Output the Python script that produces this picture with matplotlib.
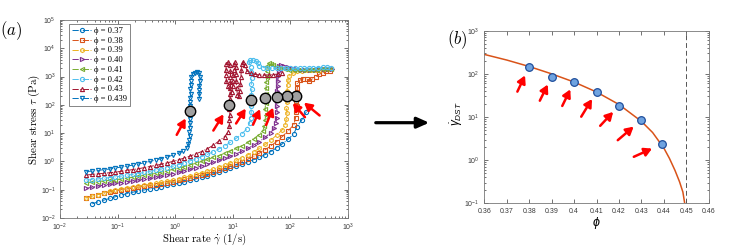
import matplotlib.pyplot as plt
from matplotlib.patches import FancyArrowPatch
from matplotlib.ticker import LogLocator, NullFormatter, FixedLocator, FixedFormatter

plt.rcParams['font.family'] = 'Liberation Sans'
plt.rcParams['mathtext.fontset'] = 'custom'
plt.rcParams['mathtext.rm'] = 'Liberation Sans'
plt.rcParams['mathtext.it'] = 'Liberation Sans:italic'

# ---------------- panel (a) data ----------------
# shear rates of the low-rate branch (1/s)
rate_grid = [0.0288, 0.0363, 0.0457, 0.0575, 0.0724, 0.0912, 0.115, 0.145, 0.182, 0.229,
             0.288, 0.363, 0.457, 0.575, 0.724, 0.912, 1.15, 1.45, 1.82, 2.29,
             2.88, 3.63, 4.57, 5.75, 7.24, 9.12, 11.5, 14.5, 18.2, 22.9,
             28.8, 36.3, 45.7, 57.5, 72.4, 91.2, 115]

rate_37 = rate_grid[1:37] + [130, 158, 190]
stress_37 = [0.0316, 0.0372, 0.0427, 0.049, 0.0562, 0.0646, 0.0724, 0.0813, 0.0891, 0.0977,
             0.107, 0.117, 0.129, 0.141, 0.155, 0.170, 0.191, 0.214, 0.240, 0.275,
             0.316, 0.363, 0.417, 0.490, 0.575, 0.676, 0.794, 0.955, 1.15, 1.38,
             1.74, 2.24, 3.02, 4.17, 6.03, 9.55, 17.0, 29.5, 57.5]

rate_38 = rate_grid[:37] + [123, 126, 129, 126, 129, 129, 132, 132, 148, 166, 191, 214,
                            240, 275, 316, 363, 417, 479]
stress_38 = [0.0525, 0.0603, 0.0676, 0.0759, 0.0832, 0.0912, 0.100, 0.107, 0.115, 0.123,
             0.132, 0.141, 0.151, 0.162, 0.178, 0.195, 0.214, 0.234, 0.263, 0.295,
             0.331, 0.372, 0.427, 0.490, 0.575, 0.676, 0.813, 0.977, 1.20, 1.51,
             1.95, 2.57, 3.55, 5.01, 7.59, 12.0, 20.0,
             35.5, 56.2, 89.1, 141, 200, 282, 398, 575, 759, 832, 794, 692,
             832, 1000, 1202, 1380, 1514, 1622]

rate_39 = rate_grid[:35] + [81.3, 85.1, 87.1, 85.1, 87.1, 89.1, 87.1, 89.1, 91.2, 95.5,
                            110, 132, 158, 191, 229, 275, 331, 398, 468]
stress_39 = [0.0501, 0.0589, 0.0676, 0.0776, 0.0871, 0.0977, 0.107, 0.117, 0.126, 0.135,
             0.145, 0.155, 0.166, 0.182, 0.200, 0.224, 0.245, 0.275, 0.309, 0.347,
             0.398, 0.457, 0.537, 0.631, 0.741, 0.891, 1.10, 1.35, 1.70, 2.19,
             2.88, 3.98, 5.62, 8.51, 13.2,
             20.0, 31.6, 50.1, 79.4, 126, 200, 316, 501, 759, 1047,
             1318, 1514, 1622, 1660, 1698, 1738, 1778, 1820, 1862]

rate_40 = rate_grid[:33] + [52.5, 56.2, 57.5, 58.9, 57.5, 58.9, 60.3, 58.9, 60.3, 60.3,
                            61.7, 63.1, 64.6, 69.2, 77.6, 89.1, 105, 126, 151, 182,
                            219, 263, 316, 380, 457, 525]
stress_40 = [0.112, 0.123, 0.135, 0.145, 0.155, 0.166, 0.178, 0.191, 0.204, 0.219,
             0.234, 0.251, 0.275, 0.302, 0.331, 0.372, 0.417, 0.468, 0.525, 0.603,
             0.692, 0.794, 0.933, 1.10, 1.29, 1.55, 1.86, 2.29, 2.88, 3.72,
             5.01, 7.08, 10.5,
             15.1, 22.4, 35.5, 56.2, 89.1, 132, 200, 302, 457, 692,
             1047, 1585, 2291, 2630, 2455, 2188, 1995, 1862, 1778, 1738,
             1738, 1778, 1820, 1862, 1905, 1905]

rate_41 = rate_grid[:31] + [33.1, 35.5, 36.3, 37.2, 36.3, 37.2, 36.3, 37.2, 38.0, 38.0,
                            38.9, 38.9, 39.8, 42.7, 46.8, 50.1, 56.2, 66.1, 79.4, 95.5,
                            115, 138, 166, 200, 240, 288, 347, 417, 501]
stress_41 = [0.178, 0.186, 0.195, 0.204, 0.214, 0.224, 0.240, 0.257, 0.275, 0.295,
             0.324, 0.347, 0.380, 0.417, 0.468, 0.525, 0.589, 0.661, 0.759, 0.871,
             1.00, 1.17, 1.38, 1.62, 1.95, 2.34, 2.88, 3.63, 4.68, 6.31, 8.91,
             12.0, 17.8, 28.2, 44.7, 70.8, 112, 170, 251, 398, 631,
             1000, 1585, 2399, 3020, 2884, 2512, 2138, 1950, 1820, 1738,
             1698, 1660, 1660, 1698, 1738, 1778, 1820, 1862, 1905]

rate_42 = rate_grid[:28] + [17.4, 19.5, 20.4, 20.9, 20.4, 21.4, 20.9, 21.4, 20.9, 21.4,
                            20.9, 20.4, 19.1, 20.0, 22.4, 25.1, 26.9, 28.8, 33.1, 39.8,
                            47.9, 57.5, 69.2, 83.2, 100, 120, 145, 174, 209, 251,
                            302, 363, 437, 513]
stress_42 = [0.219, 0.229, 0.240, 0.251, 0.269, 0.282, 0.302, 0.324, 0.347, 0.372,
             0.407, 0.447, 0.490, 0.537, 0.603, 0.676, 0.776, 0.891, 1.05, 1.23,
             1.48, 1.78, 2.19, 2.75, 3.55, 4.79, 6.61, 9.55,
             14.1, 22.4, 35.5, 56.2, 89.1, 148, 224, 355, 562, 891,
             1413, 2239, 3162, 3715, 3890, 3631, 2951, 2399, 2089, 1995,
             1950, 1950, 1950, 1950, 1950, 1950, 1950, 1950, 1995, 2042,
             2089, 2138, 2138, 2089]

rate_43 = rate_grid[:25] + [8.32, 8.71, 8.71, 8.91, 8.71, 8.71, 8.91, 8.91, 9.12, 9.12,
                            9.12, 9.12, 8.91, 8.32, 7.76, 7.59, 7.59, 7.76, 8.13, 9.55,
                            10.0, 10.2, 10.2, 10.5, 10.5, 11.0, 11.2, 11.5, 11.5, 11.7,
                            12.0, 12.6, 13.2, 13.5, 13.8, 14.1, 14.5, 15.1, 16.2, 17.8,
                            20.4, 24.0, 28.8, 34.7, 41.7, 50.1, 60.3, 72.4]
stress_43 = [0.331, 0.347, 0.363, 0.380, 0.398, 0.417, 0.447, 0.479, 0.513, 0.550,
             0.603, 0.661, 0.724, 0.794, 0.891, 1.00, 1.15, 1.32, 1.55, 1.86,
             2.24, 2.82, 3.72, 5.25, 7.59,
             11.2, 17.8, 28.2, 44.7, 70.8, 100, 158, 251, 398, 631,
             1000, 1585, 2512, 3162, 2754, 1778, 1122, 708, 447, 282,
             447, 708, 1122, 1778, 2818, 3311, 2239, 1259, 708, 398,
             224, 200, 316, 562, 1000, 1778, 2818, 3388, 2512, 1585,
             1318, 1202, 1148, 1122, 1148, 1175, 1230, 1288]

rate_439 = rate_grid[:17] + [1.38, 1.58, 1.70, 1.74, 1.78, 1.74, 1.78, 1.82, 1.78, 1.82,
                             1.82, 1.78, 1.82, 1.82, 1.86, 1.82, 1.86, 1.86, 1.91, 2.00,
                             2.19, 2.40, 2.63, 2.69, 2.69, 2.63, 2.63, 2.63, 2.63]
stress_439 = [0.437, 0.457, 0.479, 0.513, 0.537, 0.589, 0.631, 0.676, 0.741, 0.813,
              0.891, 1.00, 1.12, 1.26, 1.45, 1.66, 1.95,
              2.40, 3.02, 3.98, 5.62, 7.94, 11.2, 15.8, 22.4, 31.6, 44.7,
              63.1, 89.1, 126, 178, 251, 355, 501, 708, 1000, 1259,
              1380, 1413, 1349, 955, 676, 479, 339, 240, 166]

# onset of discontinuous shear thickening, phi = 0.38 ... 0.439
dst_rate_a = [125, 87, 59, 36, 21, 8.7, 1.8]
dst_stress_a = [205, 200, 185, 170, 150, 100, 63]

# ---------------- panel (b) data ----------------
phi_pts = [0.38, 0.39, 0.40, 0.41, 0.42, 0.43, 0.439]
rate_dst = [147, 86, 66, 38.6, 18.3, 8.5, 2.33]
phi_fit = [0.36, 0.37, 0.38, 0.39, 0.40, 0.41, 0.42, 0.43, 0.435, 0.44,
           0.4425, 0.445, 0.447, 0.4485, 0.4493]
rate_fit = [282, 209, 148, 100, 64.6, 38.0, 19.5, 7.94, 4.37, 1.91,
            1.10, 0.575, 0.316, 0.182, 0.1]
phi_c = 0.45

series = [
    ('ϕ = 0.37', rate_37, stress_37, 'o', '#0072BD'),
    ('ϕ = 0.38', rate_38, stress_38, 's', '#D95319'),
    ('ϕ = 0.39', rate_39, stress_39, 'h', '#EDB120'),
    ('ϕ = 0.40', rate_40, stress_40, '>', '#7E2F8E'),
    ('ϕ = 0.41', rate_41, stress_41, '<', '#77AC30'),
    ('ϕ = 0.42', rate_42, stress_42, 'o', '#4DBEEE'),
    ('ϕ = 0.43', rate_43, stress_43, '^', '#A2142F'),
    ('ϕ = 0.439', rate_439, stress_439, 'v', '#0072BD'),
]

# arrow tails (offset points from the marker) and gap to the marker
arrows_a = [(17, -14, 7.5), (13, -15, 6.5), (-8, -20, 8), (-8.5, -19, 8.5),
            (-11, -17, 7.5), (-11.5, -18.5, 8), (-9.5, -17.5, 6.5)]
arrows_b = [(-8.5, -18, 7), (-8.5, -17.3, 6.3), (-8.5, -17.5, 6.2), (-11, -18, 6.2),
            (-13.5, -14.5, 6.1), (-17, -14.5, 7.3), (-20, -9, 7.5)]

axis_col = '#3a3a3a'

fig = plt.figure(figsize=(7.36, 2.46), dpi=100)
ax1 = fig.add_axes([60 / 736, 28 / 246, 288 / 736, 198 / 246])
ax2 = fig.add_axes([484.3 / 736, 42.7 / 246, 224.4 / 736, 172.6 / 246])

for lab, x, y, m, c in series:
    ax1.plot(x, y, ls='-.', lw=0.7, color=c, marker=m, ms=3.0, mfc='none',
             mec=c, mew=0.8, label=lab)

ax1.plot(dst_rate_a, dst_stress_a, ls='none', marker='o', ms=7.5, mfc='#a0a0a0',
         mec='black', mew=1.0, zorder=5)
for (dx, dy, gap), xr, ys in zip(arrows_a, dst_rate_a, dst_stress_a):
    ax1.annotate('', xy=(xr, ys), xytext=(dx, dy), textcoords='offset points',
                 arrowprops=dict(arrowstyle='-|>,head_length=0.5,head_width=0.28',
                                 color='red', lw=1.8, shrinkA=0, shrinkB=gap,
                                 mutation_scale=9), zorder=6)

ax1.set_xscale('log')
ax1.set_yscale('log')
ax1.set_xlim(1e-2, 1e3)
ax1.set_ylim(1e-2, 1e5)
ax1.xaxis.set_major_locator(LogLocator(base=10, numticks=10))
ax1.yaxis.set_major_locator(LogLocator(base=10, numticks=10))
for axis in (ax1.xaxis, ax1.yaxis):
    axis.set_minor_locator(LogLocator(base=10, subs=range(2, 10), numticks=20))
    axis.set_minor_formatter(NullFormatter())

ax1.set_xlabel(r'$\mathrm{Shear\ rate}\ \dot{\gamma}\ \mathrm{(1/s)}$', fontsize=7.8,
               math_fontfamily='cm')
ax1.set_ylabel(r'$\mathrm{Shear\ stress}\ \tau\ \mathrm{(Pa)}$', fontsize=8,
               math_fontfamily='cm')
ax1.xaxis.set_label_coords(0.5, -0.068)
ax1.yaxis.set_label_coords(-0.062, 0.5)

leg = ax1.legend(loc='upper left', bbox_to_anchor=(0.03, 0.98), borderaxespad=0,
                 prop={'family': ['Liberation Serif', 'DejaVu Serif'], 'size': 6.2},
                 handlelength=2.3, handletextpad=0.35, labelspacing=0.2,
                 borderpad=0.35, handleheight=0.5, fancybox=False, framealpha=1,
                 edgecolor='#555555')
leg.get_frame().set_linewidth(0.5)

# panel (b)
ax2.plot(phi_fit, rate_fit, color='#D95319', lw=1.1)
ax2.axvline(phi_c, color='#555555', lw=0.7, ls=(0, (5, 3)))
ax2.plot(phi_pts, rate_dst, ls='none', marker='o', ms=5.5, mfc='#6fa3e0',
         mec='#1f4e9c', mew=0.9, zorder=4)
for (dx, dy, gap), xp, yp in zip(arrows_b, phi_pts, rate_dst):
    ax2.annotate('', xy=(xp, yp), xytext=(dx, dy), textcoords='offset points',
                 arrowprops=dict(arrowstyle='-|>,head_length=0.5,head_width=0.28',
                                 color='red', lw=1.8, shrinkA=0, shrinkB=gap,
                                 mutation_scale=9), zorder=6)

ax2.set_yscale('log')
ax2.set_xlim(0.36, 0.46)
ax2.set_ylim(1e-1, 1e3)
xt = [0.36, 0.37, 0.38, 0.39, 0.40, 0.41, 0.42, 0.43, 0.44, 0.45, 0.46]
ax2.xaxis.set_major_locator(FixedLocator(xt))
ax2.xaxis.set_major_formatter(FixedFormatter(['%g' % v for v in xt]))
ax2.yaxis.set_major_locator(LogLocator(base=10, numticks=10))
ax2.yaxis.set_minor_locator(LogLocator(base=10, subs=range(2, 10), numticks=20))
ax2.yaxis.set_minor_formatter(NullFormatter())
ax2.set_xlabel(r'$\phi$', fontsize=9)
ax2.set_ylabel(r'$\dot{\gamma}_{DST}$', fontsize=8.5)
ax2.xaxis.set_label_coords(0.5, -0.07)
ax2.yaxis.set_label_coords(-0.088, 0.52)

for ax in (ax1, ax2):
    ax.tick_params(which='both', direction='in', top=True, right=True,
                   labelsize=5, colors=axis_col, width=0.5)
    ax.tick_params(axis='x', which='both', pad=2.4)
    ax.tick_params(axis='y', which='both', pad=3.0)
    ax.tick_params(which='major', length=3)
    ax.tick_params(which='minor', length=1.6)
    for s in ax.spines.values():
        s.set_linewidth(0.6)
        s.set_color('#777777')
ax2.tick_params(axis='x', which='both', pad=3.2)
ax2.tick_params(axis='y', which='both', pad=3.6)

fig.text(0.0, 1 - 30.7 / 246, r'$(a)$', math_fontfamily='cm', fontsize=12,
         ha='left', va='center')
fig.text(457.5 / 736, 1 - 40 / 246, r'$(b)$', math_fontfamily='cm', fontsize=12,
         ha='center', va='center')

fig.add_artist(FancyArrowPatch((373 / 736, 1 - 122.7 / 246), (432 / 736, 1 - 122.7 / 246),
                               transform=fig.transFigure, color='black', lw=2.3,
                               arrowstyle='-|>,head_length=0.45,head_width=0.2',
                               mutation_scale=16))

fig.savefig('out.png', dpi=100)
